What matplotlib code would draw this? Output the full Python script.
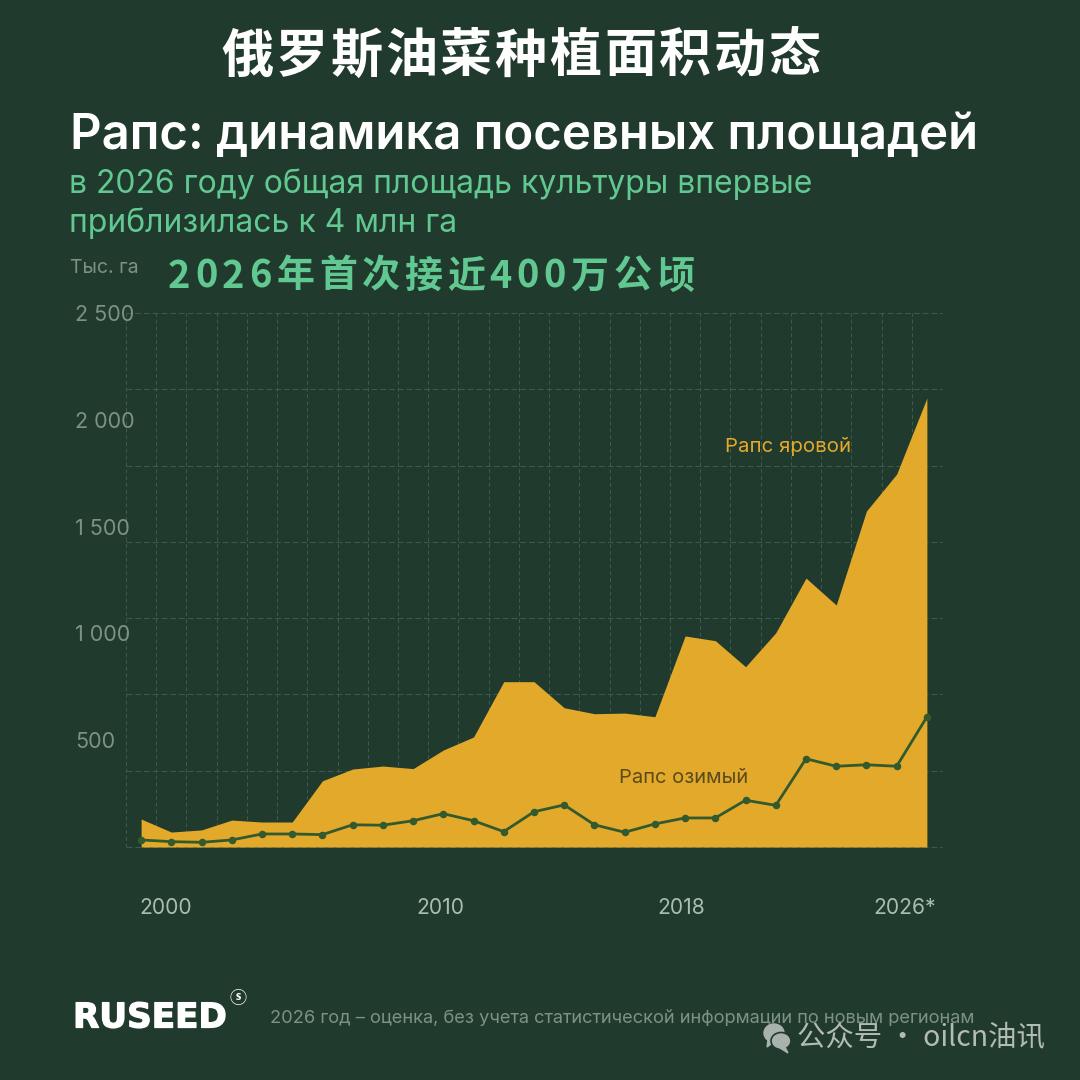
import matplotlib
matplotlib.use("Agg")
import matplotlib.pyplot as plt
import matplotlib.patheffects as pe
from matplotlib.patches import Ellipse, Polygon
from matplotlib.transforms import ScaledTranslation
import numpy as np

YEARS = list(range(2000, 2027))
SPRING_TOP = [131, 70, 80, 126, 117, 117, 310, 365, 379, 367, 454, 515, 774, 774,
              652, 624, 627, 610, 988, 966, 844, 1003, 1259, 1133, 1573, 1746, 2102]
WINTER = [33, 25, 22, 33, 61, 61, 58, 104, 102, 123, 156, 123, 72, 165,
          197, 104, 69, 108, 136, 136, 219, 195, 413, 378, 385, 378, 609]

Y_TICKS = [500, 1000, 1500, 2000, 2500]
Y_LABELS = ["500", "1 000", "1 500", "2 000", "2 500"]
X_TICKS = [2000, 2010, 2018, 2026]
X_LABELS = ["2000", "2010", "2018", "2026*"]

BG = "#203A2D"
GOLD = "#E3A92A"
DARK_LINE = "#33592F"
GRID = "#415C4D"
MINT = "#62C892"
MUTED = "#7E9186"
LATIN = ["Inter", "Noto Sans CJK SC", "DejaVu Sans"]
CJK = ["Noto Sans CJK SC", "DejaVu Sans"]

W = H = 1080
fig = plt.figure(figsize=(W / 100, H / 100), dpi=100, facecolor=BG)
ax = fig.add_axes([126 / W, 1 - 847 / H, (942 - 126) / W, (847 - 313) / H], facecolor=BG)


def px(size):
    return size * 0.72


def put(x, y, s, size, color, ha="left", weight="normal", family=LATIN, zorder=5):
    return fig.text(x / W, 1 - y / H, s, fontsize=px(size), color=color, ha=ha, va="center",
                    fontweight=weight, family=family, zorder=zorder)


def spaced(x0, x1, y, s, size, color, weight="bold"):
    # lays the glyphs out one by one so the run fills x0..x1
    renderer = fig.canvas.get_renderer()
    items = [put(0, y, c, size, color, weight=weight, family=CJK) for c in s]
    widths = [t.get_window_extent(renderer).width for t in items]
    gap = (x1 - x0 - sum(widths)) / (len(s) - 1)
    pos = x0
    for t, w in zip(items, widths):
        t.set_x(pos / W)
        pos += w + gap


ax.fill_between(YEARS, 0, SPRING_TOP, color=GOLD, linewidth=0, zorder=3)
ax.plot(YEARS, WINTER, color=DARK_LINE, linewidth=2.0, marker="o", markersize=4.4, zorder=4)

ax.set_xlim(1999.5, 2026.5)
ax.set_ylim(0, 2500)

# grid cells are one year wide and a seventh of the axis tall
for x in np.arange(1999.5, 2027):
    ax.axvline(x, color=GRID, linewidth=0.7, linestyle=(0, (4, 3)), zorder=1)
for y in np.linspace(0, 2500, 8):
    ax.axhline(y, color=GRID, linewidth=0.7, linestyle=(0, (6, 3)), zorder=1, clip_on=False)

for spine in ax.spines.values():
    spine.set_visible(False)

ax.set_yticks(Y_TICKS)
ax.set_yticklabels(Y_LABELS, fontsize=px(21.5), color=MUTED, family=LATIN, ha="left")
ax.tick_params(axis="y", length=0, pad=px(51))
ax.set_xticks(X_TICKS)
ax.set_xticklabels(X_LABELS, fontsize=px(21), color="#A6BFB2", family=LATIN)
ax.tick_params(axis="x", length=0, pad=px(51))
ticks = ax.get_xticklabels()
ticks[0].set_ha("left")
ticks[-1].set_ha("right")
# small horizontal nudges for the year labels, in pixels
for label, dx in zip(ticks, [-2, -3, -4, 9]):
    label.set_transform(label.get_transform() + ScaledTranslation(dx / 100, 0, fig.dpi_scale_trans))

spaced(221, 820, 56, "俄罗斯油菜种植面积动态", 52, "#FFFFFF")
put(70, 136, "Рапс: динамика посевных площадей", 49.1, "#FFFFFF", weight="semibold")
put(69, 184, "в 2026 году общая площадь культуры впервые", 31.9, MINT)
put(69, 223, "приблизилась к 4 млн га", 31.9, MINT)
put(70, 268, "Тыс. га", 19.5, MUTED)
spaced(168, 694, 276, "2026年首次接近400万公顷", 38, MINT)

put(725, 446, "Рапс яровой", 20.4, GOLD, zorder=6)
put(619, 778, "Рапс озимый", 20.2, "#5B4B1C", zorder=6)

logo = put(73, 1018, "RUSEED", 34.2, "#FFFFFF", weight="bold", family=["DejaVu Sans"])
logo.set_path_effects([pe.withStroke(linewidth=0.9, foreground="#FFFFFF")])
put(229, 998, "ⓢ", 17, "#FFFFFF", weight="bold", family=CJK)
put(270, 1018, "2026 год – оценка, без учета статистической информации по новым регионам",
    18.25, MUTED)

# chat bubbles next to the account name
ICON = "#A9B3AD"
fig.add_artist(Ellipse((774 / W, 1 - 1033 / H), 20 / W, 18 / H, color=ICON, zorder=6))
fig.add_artist(Polygon([(768 / W, 1 - 1040 / H), (767 / W, 1 - 1047 / H), (775 / W, 1 - 1041 / H)],
                       color=ICON, zorder=6))
fig.add_artist(Ellipse((781 / W, 1 - 1041 / H), 20 / W, 17 / H, facecolor=ICON,
                       edgecolor=BG, linewidth=1.2, zorder=7))
fig.add_artist(Polygon([(785 / W, 1 - 1047 / H), (788 / W, 1 - 1053 / H), (780 / W, 1 - 1048 / H)],
                       color=ICON, zorder=7))
put(797, 1038, "公众号 · oilcn油讯", 28.4, "#B3BBB5", family=CJK, zorder=7)

fig.savefig("out.png", dpi=100, facecolor=BG)
